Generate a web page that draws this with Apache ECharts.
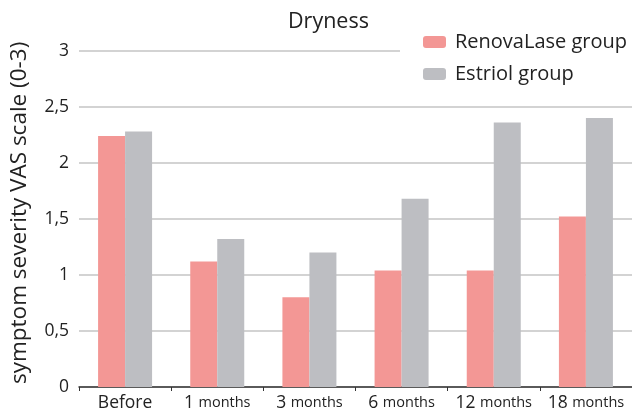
<!DOCTYPE html>
<html><head><meta charset="utf-8">
<script src="https://cdn.jsdelivr.net/npm/echarts@6/dist/echarts.min.js"></script>
<style>html,body{margin:0;padding:0;background:#fff}#c{width:632px;height:415px}</style>
</head><body><div id="c"></div>
<script>
var categories = ['Before', '1 months', '3 months', '6 months', '12 months', '18 months'];
var renovaLase = [2.24, 1.12, 0.80, 1.04, 1.04, 1.52];
var estriol = [2.28, 1.32, 1.20, 1.68, 2.36, 2.40];
var seriesNames = ['RenovaLase group', 'Estriol group'];
var titleText = 'Dryness';
var yAxisName = 'symptom severity VAS scale (0-3)';

var FONT = '"Open Sans", sans-serif';
var chart = echarts.init(document.getElementById('c'));
chart.setOption({
  animation: false,
  title: { text: titleText, left: 283, top: 6,
    textStyle: { fontFamily: FONT, fontSize: 21.5, fontWeight: 'normal', color: '#222' } },
  legend: { data: seriesNames, orient: 'vertical', left: 400, top: 28, itemGap: 12,
    itemWidth: 23, itemHeight: 12, backgroundColor: '#fff', padding: [4, 6, 4, 23],
    textStyle: { fontFamily: FONT, fontSize: 20, color: '#222', padding: [0, 0, 0, 4] } },
  grid: { left: 78, right: 0, top: 50.7, bottom: 28, containLabel: false },
  xAxis: {
    type: 'category', data: categories,
    axisLine: { lineStyle: { color: '#333', width: 1.5 } },
    axisTick: { show: true, alignWithLabel: false, length: 4, inside: false, lineStyle: { color: '#333' } },
    axisLabel: {
      margin: 7, interval: 0,
      formatter: function (v) {
        var p = v.split(' ');
        if (p.length === 1) return '{a|' + v + '}';
        return '{a|' + p[0] + ' }{b|' + p[1] + '}';
      },
      rich: {
        a: { fontFamily: FONT, fontSize: 17.5, color: '#222' },
        b: { fontFamily: FONT, fontSize: 14.5, color: '#222' }
      }
    }
  },
  yAxis: {
    type: 'value', min: 0, max: 3, interval: 0.5,
    name: yAxisName, nameLocation: 'middle', nameGap: 48,
    nameTextStyle: { fontFamily: FONT, fontSize: 22.5, color: '#222', padding: [0, 0, 0, 12] },
    axisLine: { show: false }, axisTick: { show: false },
    axisLabel: { fontFamily: FONT, fontSize: 17.5, color: '#222', margin: 10,
      formatter: function (v) { return String(v).replace('.', ','); } },
    splitLine: { lineStyle: { color: '#d3d3d3', width: 2 } }
  },
  series: [
    { name: seriesNames[0], type: 'bar', data: renovaLase, barWidth: 27, barGap: '0%',
      itemStyle: { color: '#f39795' }, z: 3 },
    { name: seriesNames[1], type: 'bar', data: estriol, barWidth: 27,
      itemStyle: { color: '#bdbec2' }, z: 3 }
  ]
});
</script></body></html>
